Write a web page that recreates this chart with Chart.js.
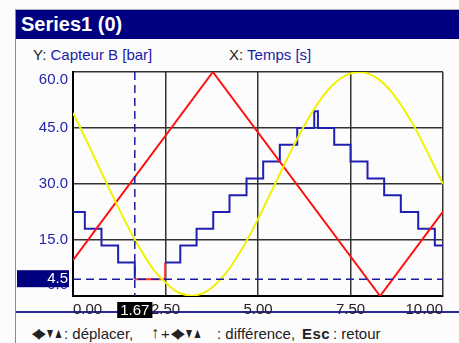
<!DOCTYPE html>
<html lang="fr">
<head>
<meta charset="UTF-8" />
<title>Series1 (0)</title>
<script src="https://cdn.jsdelivr.net/npm/chart.js@4.4.0/dist/chart.umd.min.js"></script>
<style>
  body { margin: 0; background: #fcfcfc; font-family: 'Liberation Sans', Arial, sans-serif; }
  #wrap { position: relative; width: 459px; height: 343px; overflow: hidden; }
  #frame { position: absolute; left: 15px; top: 9px; right: 0; bottom: 0; border-left: 1px solid #8a8a8a; border-top: 1px solid #b0b0b0; }
  #titlebar { position: absolute; left: 16px; top: 10px; right: 0; height: 29px; background: #000080; color: #fff;
    font: bold 20px 'Liberation Sans', Arial, sans-serif; line-height: 29px; padding-left: 5px; }
  .sub { position: absolute; top: 46px; font-size: 15px; color: #222; white-space: nowrap; }
  .sub b { font-weight: normal; color: #1c1ca8; }
  #sep { position: absolute; left: 16px; right: 0; top: 311px; height: 2px; background: #2a2a9c; }
  .ft { position: absolute; top: 325px; font-size: 15px; color: #222; white-space: nowrap; }
  .k { font-size: 14px; letter-spacing: -2px; top: 325px; transform: scaleX(0.72); transform-origin: left center; }
  canvas { position: absolute; left: 0; top: 0; }
</style>
</head>
<body>
<div id="wrap">
  <div id="frame"></div>
  <div id="titlebar">Series1 (0)</div>
  <div class="sub" style="left:33px">Y: <b>Capteur B [bar]</b></div>
  <div class="sub" style="left:229px">X: <b>Temps [s]</b></div>
  <div id="sep"></div>
  <span class="ft k" style="left:32px">◀▶▼▲</span>
  <span class="ft" style="left:64px">: déplacer,</span>
  <span class="ft" style="left:151px;font-weight:bold;font-size:16px;top:324px">↑</span>
  <span class="ft" style="left:161px">+</span>
  <span class="ft k" style="left:171px">◀▶▼▲</span>
  <span class="ft" style="left:217px">: différence,</span>
  <span class="ft" style="left:302px;font-weight:bold;letter-spacing:0.5px">Esc</span>
  <span class="ft" style="left:333px">: retour</span>
  <canvas id="chart" width="459" height="343"></canvas>
</div>
<script>
// sine-like trace (yellow)
const yellowX = [0, 0.25, 0.5, 0.75, 1, 1.25, 1.5, 1.75, 2, 2.25, 2.5, 2.75, 3, 3.25, 3.5, 3.75, 4, 4.25, 4.5, 4.75,
  5, 5.25, 5.5, 5.75, 6, 6.25, 6.5, 6.75, 7, 7.25, 7.5, 7.75, 8, 8.25, 8.5, 8.75, 9, 9.25, 9.5, 9.75, 10]
const yellowY = [49, 44, 38.8, 33.5, 28.3, 23.2, 18.3, 13.7, 9.6, 6.1, 3.6, 1.5, 0.4, 0.1, 0.7, 2.2, 4.6, 7.7, 11.5, 15.8,
  20.6, 25.7, 30.8, 36, 41, 45.6, 49.8, 53.4, 56.3, 58.4, 59.6, 60, 59.5, 58.1, 55.9, 52.8, 49.1, 44.9, 40.1, 35.1, 30]

// triangle trace (red)
const redX = [0, 3.78, 8.3, 10]
const redY = [9.6, 60, 0, 22.6]

// staircase trace (blue), each value holds until the next x
const stepX = [0, 0.32, 0.77, 1.22, 1.67, 2.49, 2.9, 3.34, 3.79, 4.23, 4.69, 5.14, 5.59, 6.06, 6.52, 6.62,
  7.06, 7.5, 7.96, 8.41, 8.86, 9.33, 9.78, 10]
const stepY = [22.5, 18, 13.5, 9, 4.5, 9, 13.5, 18, 22.5, 27, 31.5, 36, 40.5, 45, 49.5, 45,
  40.5, 36, 31.5, 27, 22.5, 18, 13.5, 13.5]

const yTicks = [0, 15, 30, 45, 60]
const xTicks = [0, 2.5, 5, 7.5, 10]
const cursorX = 1.67
const cursorY = 4.5

const blue = '#2424b4'
const navy = '#1c1c9c'

function pts(xs, ys) { return xs.map((x, i) => ({ x: x, y: ys[i] })) }

const cursorPlugin = {
  id: 'cursor',
  afterDatasetsDraw(chart) {
    const { ctx, chartArea: a, scales } = chart
    const px = scales.x.getPixelForValue(cursorX)
    const py = scales.y.getPixelForValue(cursorY)
    ctx.save()
    ctx.strokeStyle = navy
    ctx.lineWidth = 1.5
    ctx.setLineDash([8, 5])
    ctx.beginPath()
    ctx.moveTo(a.left, py); ctx.lineTo(a.right, py)
    ctx.moveTo(px, a.top); ctx.lineTo(px, a.bottom)
    ctx.stroke()
    ctx.restore()
  },
  afterDraw(chart) {
    const { ctx, chartArea: a, scales } = chart
    const px = scales.x.getPixelForValue(cursorX)
    const py = scales.y.getPixelForValue(cursorY)
    ctx.save()
    ctx.font = '15px "Liberation Sans", Arial, sans-serif'
    ctx.textAlign = 'right'
    ctx.textBaseline = 'middle'
    ctx.fillStyle = blue
    // end labels pulled inside the axis
    ctx.fillText((60).toFixed(1), a.left - 5, scales.y.getPixelForValue(60) + 8)
    ctx.fillText((0).toFixed(1), a.left - 5, scales.y.getPixelForValue(0) - 11)
    // y cursor box
    ctx.fillStyle = '#000080'
    ctx.fillRect(17, py - 9, a.left - 21, 17)
    ctx.fillStyle = '#fff'
    ctx.fillText(cursorY.toFixed(1), a.left - 5, py)
    // x cursor box
    ctx.textAlign = 'center'
    const w = ctx.measureText(cursorX.toFixed(2)).width + 6
    ctx.fillStyle = '#000'
    ctx.fillRect(px - w / 2, a.bottom + 6, w, 16)
    ctx.fillStyle = '#fff'
    ctx.fillText(cursorX.toFixed(2), px, a.bottom + 14.5)
    ctx.restore()
  }
}

new Chart(document.getElementById('chart'), {
  type: 'line',
  data: {
    datasets: [
      { data: pts(yellowX, yellowY), borderColor: '#f2f200', borderWidth: 2, tension: 0.3 },
      { data: pts(redX, redY), borderColor: '#ff1010', borderWidth: 2, tension: 0 },
      {
        data: pts(stepX, stepY), borderColor: '#2020b0', borderWidth: 2, stepped: true,
        segment: { borderColor: c => c.p0.parsed.y === cursorY ? '#ff3030' : undefined }
      }
    ]
  },
  options: {
    responsive: false,
    animation: false,
    events: [],
    elements: { point: { radius: 0 } },
    layout: { padding: { left: 15, top: 72, right: 16, bottom: 0 } },
    plugins: { legend: { display: false }, tooltip: { enabled: false } },
    scales: {
      x: {
        type: 'linear', min: 0, max: 10,
        afterBuildTicks: s => { s.ticks = xTicks.map(v => ({ value: v })) },
        afterFit: s => { s.height = 47 },
        grid: { color: '#333', lineWidth: 1.5, drawTicks: false },
        border: { color: '#000', width: 2 },
        ticks: {
          align: 'inner', padding: 5, color: '#222', maxRotation: 0,
          font: { family: '"Liberation Sans", Arial, sans-serif', size: 15 },
          callback: v => v.toFixed(2)
        }
      },
      y: {
        min: 0, max: 60,
        afterBuildTicks: s => { s.ticks = yTicks.map(v => ({ value: v })) },
        afterFit: s => { s.width = 58 },
        grid: { color: '#333', lineWidth: 1.5, drawTicks: false },
        border: { color: '#000', width: 2 },
        ticks: {
          padding: 5,
          color: c => (c.tick.value === 60 || c.tick.value === 0) ? 'transparent' : blue,
          font: { family: '"Liberation Sans", Arial, sans-serif', size: 15 },
          callback: v => v.toFixed(1)
        }
      }
    }
  },
  plugins: [cursorPlugin]
})
</script>
</body>
</html>
